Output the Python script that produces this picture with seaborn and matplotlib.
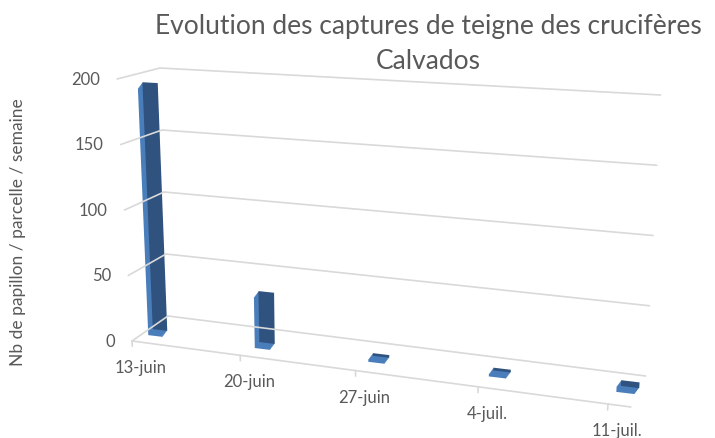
import numpy as np
import pandas as pd
import matplotlib
matplotlib.use("Agg")
import matplotlib.pyplot as plt
import seaborn as sns
from matplotlib.transforms import Transform, Affine2D, IdentityTransform

# data
dates = ["13-juin", "20-juin", "27-juin", "4-juil.", "11-juil."]
captures = [194, 39, 2, 2, 4]
yticks = [0, 50, 100, 150, 200]
title = "Evolution des captures de teigne des crucifères\nCalvados"
ylabel = "Nb de papillon / parcelle / semaine"

sns.set_theme(style="white")
plt.rcParams["font.family"] = ["Lato", "DejaVu Sans"]

W, H = 715, 439
TXT = "#595959"
GRID = "#d9d9d9"
DARK = "#30527f"
LIGHT = "#4a7ebb"


class Plane(Transform):
    """fake excel 3d: maps (category, value) onto a tilted plane, pixels"""
    input_dims = 2
    output_dims = 2

    def __init__(self, xs, y0, ytop, k, ymax=200, xc=334):
        super().__init__()
        self.xs, self.y0, self.ytop, self.k, self.ymax, self.xc = xs, y0, ytop, k, ymax, xc

    def transform_non_affine(self, pts):
        pts = np.asarray(pts, float)
        shape = pts.shape
        pts = pts.reshape(-1, 2)
        c, val = pts[:, 0], pts[:, 1]
        x0, s, q = self.xs
        X = x0 + s * c + q * c ** 2
        t = (X - x0) / (4 * s + 16 * q)
        yb = self.y0[0] + t * (self.y0[1] - self.y0[0])
        yt = self.ytop[0] + t * (self.ytop[1] - self.ytop[0])
        v = val / self.ymax
        x = X + (X - self.xc) * self.k * v
        y = yb + v * (yt - yb)
        return np.column_stack([x, H - y]).reshape(shape)


front = Plane((132, 104.6, 3.6), (342, 405), (80, 109), 0.074)
back = Plane((168, 105, 3.6), (317, 377), (69, 96), 0.048)
bars = Plane((160, 103.5, 3.5), (331, 388), (76, 103), 0.059)

fig = plt.figure(figsize=(W / 100, H / 100), dpi=100)
ax = fig.add_axes([0, 0, 1, 1])
df = pd.DataFrame({"date": dates, "n": captures})

# back wall grid + left wall lines
for y in yticks:
    ax.plot([0, 4], [y, y], color=GRID, lw=1.2, transform=back, clip_on=False)
    p1 = front.transform([(0, y)])[0]
    p2 = back.transform([(0, y)])[0]
    ax.plot([p1[0], p2[0]], [p1[1], p2[1]], color=GRID, lw=1.2,
            transform=IdentityTransform(), clip_on=False)
    ax.text(0, y, str(y), transform=front + Affine2D().translate(-17, 0),
            ha="right", va="center", fontsize=12, color=TXT)

# floor front edge with ticks and labels
ax.plot([0, 4.17], [0, 0], color=GRID, lw=1.2, transform=front, clip_on=False)
for i, d in enumerate(dates):
    ax.plot([i, i], [0, -4], color=GRID, lw=1.2, transform=front, clip_on=False)
    ax.text(i, 0, d, transform=front + Affine2D().translate(9, -26),
            ha="center", va="center", fontsize=12, color=TXT)

# bars: light body swept down-left (3d depth), dark face on top
for step in np.linspace(1, 0.15, 6):
    n0 = len(ax.patches)
    sns.barplot(data=df, x="date", y="n", color=LIGHT, width=0.14,
                errorbar=None, saturation=1, linewidth=0, ax=ax)
    for p in ax.patches[n0:]:
        p.set_transform(bars + Affine2D().translate(-4.5 * step, -6 * step))
        p.set_clip_on(False)
        p.set_edgecolor("none")
n1 = len(ax.patches)
sns.barplot(data=df, x="date", y="n", color=DARK, width=0.14,
            errorbar=None, saturation=1, linewidth=0, ax=ax)
for p in ax.patches[n1:]:
    p.set_transform(bars)
    p.set_clip_on(False)
    p.set_edgecolor("none")

ax.set_axis_off()

fig.text(428 / W, 1 - 14 / H, title, ha="center", va="top", fontsize=19,
         color=TXT, linespacing=1.5)
fig.text(18 / W, 1 - 232 / H, ylabel, rotation=90, ha="center", va="center",
         fontsize=12.5, color=TXT)

fig.savefig("out.png", dpi=100)
